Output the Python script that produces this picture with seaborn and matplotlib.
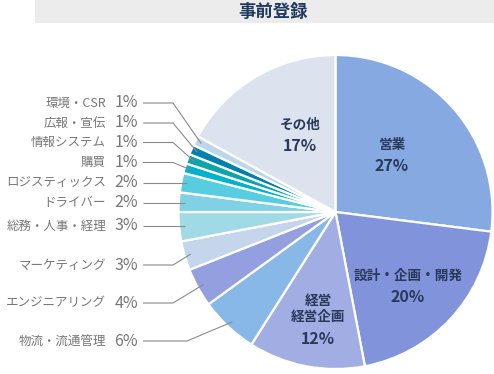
import numpy as np
import matplotlib
matplotlib.use("Agg")
import matplotlib.pyplot as plt
import seaborn as sns
from matplotlib.patches import Rectangle

sns.set_theme(style="white")
plt.rcParams['font.family'] = ['Noto Sans CJK JP', 'DejaVu Sans']

# ---- data (clockwise from 12 o'clock) ----
categories = ["営業", "設計・企画・開発", "経営\n経営企画", "物流・流通管理", "エンジニアリング",
              "マーケティング", "総務・人事・経理", "ドライバー", "ロジスティックス", "購買",
              "情報システム", "広報・宣伝", "環境・CSR", "その他"]
values = [27, 20, 12, 6, 4, 3, 3, 2, 2, 1, 1, 1, 1, 17]
colors = ["#87a9e1", "#8193da", "#a1ade3", "#87b8e8", "#949fe0", "#c4d5ec", "#a0dae6",
          "#80d1e3", "#58cddf", "#00b3cc", "#0fa3aa", "#0080ad", "#bcd6ea", "#dde3ee"]

# inside labels (category index -> text position in data units)
inside_idx = [0, 1, 2, 13]
inside_pos = [(0.36, 0.383), (0.462, -0.449), (-0.11, -0.715), (-0.226, 0.512)]

# outside labels: category index, label y (pixels from top), elbow x (pixels)
outside_idx = [12, 11, 10, 9, 8, 7, 6, 5, 4, 3]
outside_y = [103, 123, 142.5, 162.5, 183, 203, 226, 265, 303, 341]
elbow_x = [173, 173, 173, 173, 173, 173, 173, 173, 173, 187]

W, H = 494, 374
CX, CY, R = 335.5, 212.0, 157.0

fig = plt.figure(figsize=(W / 100, H / 100), dpi=100)
ax = fig.add_axes([(CX - R) / W, (H - CY - R) / H, 2 * R / W, 2 * R / H])
ax.axis("off")

wedges, _ = ax.pie(values, colors=colors, startangle=90, counterclock=False, radius=1,
                   wedgeprops=dict(edgecolor="white", linewidth=1.6))
ax.set_xlim(-1, 1)
ax.set_ylim(-1, 1)
ax.set_aspect("equal")

def px2d(px, py):
    return (px - CX) / R, (CY - py) / R

navy = "#28395a"
# inside labels
for i, (x, y) in zip(inside_idx, inside_pos):
    ax.text(x, y, categories[i], ha="center", va="bottom", fontsize=9.8, fontweight="bold",
            color=navy, linespacing=1.25)
    ax.text(x, y - 0.04, f"{values[i]}%", ha="center", va="top", fontsize=11.5,
            fontweight="bold", color=navy)

# outside labels with leader lines
gray_t = "#777777"
gray_l = "#8a8a8a"
for i, ly, ex in zip(outside_idx, outside_y, elbow_x):
    w = wedges[i]
    mid = np.deg2rad((w.theta1 + w.theta2) / 2)
    ax_, ay_ = 0.96 * np.cos(mid), 0.96 * np.sin(mid)
    sx, sy = px2d(143, ly)
    exd, _ = px2d(ex, ly)
    if abs(ay_ - sy) < 0.03:
        xs, ys = [sx, ax_], [sy, sy]
    else:
        xs, ys = [sx, exd, ax_], [sy, sy, ay_]
    ax.plot(xs, ys, color=gray_l, lw=0.8, clip_on=False, solid_capstyle="butt")
    nx, _ = px2d(106, ly)
    pxx, _ = px2d(138, ly)
    ax.text(nx, sy, categories[i], ha="right", va="center", fontsize=9,
            color=gray_t, clip_on=False)
    ax.text(pxx, sy, f"{values[i]}%", ha="right", va="center", fontsize=11.5,
            color=gray_t, clip_on=False)

# title box
fig.patches.append(Rectangle((35 / W, 1 - 22.5 / H), (W - 35) / W, 22.5 / H,
                             transform=fig.transFigure, facecolor="#ececec",
                             edgecolor="none", zorder=0))
fig.text(273 / W, 1 - 11.5 / H, "事前登録", ha="center", va="center", fontsize=12.5,
         fontweight="bold", color="#1f3a5f")

fig.savefig("out.png", dpi=100, facecolor="white")
